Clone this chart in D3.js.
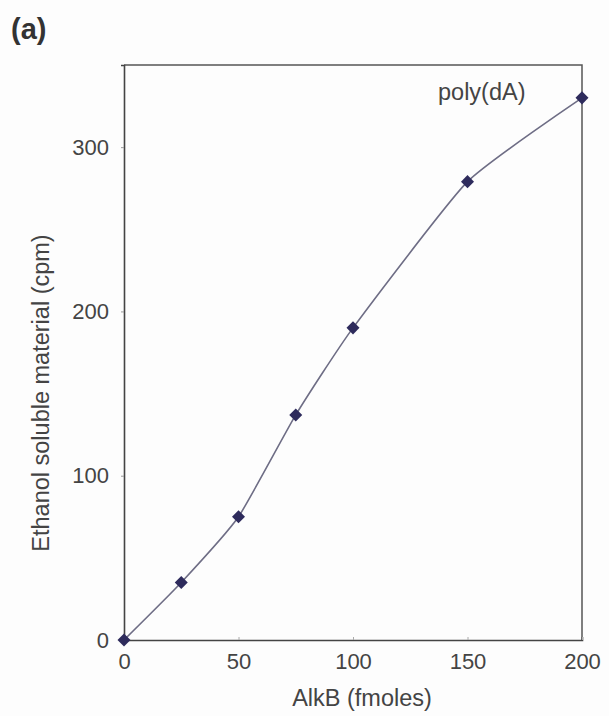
<!DOCTYPE html>
<html>
<head>
<meta charset="utf-8">
<script src="https://cdn.jsdelivr.net/npm/d3@7"></script>
<style>
  html, body { margin: 0; padding: 0; background: #fdfdfd; }
  svg { display: block; font-family: Arial, "Liberation Sans", sans-serif; }
</style>
</head>
<body>
<svg id="chart" width="609" height="716"></svg>
<script>
// AlkB titration on poly(dA): ethanol-soluble release
const alkbFmoles = [0, 25, 50, 75, 100, 150, 200];
const solubleCpm = [0, 35, 75, 137, 190, 279, 330];
const xTicks = [0, 50, 100, 150, 200];
const yTicks = [0, 100, 200, 300];
const seriesLabel = "poly(dA)";
const panelLabel = "(a)";
const xTitle = "AlkB (fmoles)";
const yTitle = "Ethanol soluble material (cpm)";

const svg = d3.select("#chart");
const plotLeft = 124, plotRight = 582, plotTop = 65, plotBottom = 640;

const x = d3.scaleLinear().domain([0, 200]).range([plotLeft, plotRight]);
const y = d3.scaleLinear().domain([0, 350]).range([plotBottom, plotTop]);

const textColor = "#444";

// panel letter
svg.append("text")
  .attr("x", 11).attr("y", 39)
  .attr("font-size", 29).attr("font-weight", "bold")
  .attr("fill", "#333")
  .text(panelLabel);

// top and right frame
svg.append("path")
  .attr("d", `M${plotLeft},${plotTop}H${plotRight}V${plotBottom}`)
  .attr("fill", "none").attr("stroke", "#555").attr("stroke-width", 1.5);

// y axis
const yAxis = svg.append("g")
  .attr("transform", `translate(${plotLeft},0)`)
  .call(d3.axisLeft(y).tickValues(yTicks).tickSize(3).tickPadding(12));
yAxis.select(".domain").attr("stroke", "#444").attr("stroke-width", 1.6);
yAxis.selectAll(".tick line").attr("stroke", "#999");
yAxis.selectAll(".tick text")
  .attr("font-size", 22).attr("fill", textColor)
  .attr("font-family", "Arial, 'Liberation Sans', sans-serif");

// x axis
const xAxis = svg.append("g")
  .attr("transform", `translate(0,${plotBottom})`)
  .call(d3.axisBottom(x).tickValues(xTicks).tickSize(-3).tickPadding(13));
xAxis.select(".domain").attr("stroke", "#444").attr("stroke-width", 1.6);
xAxis.selectAll(".tick line").attr("stroke", "#aaa");
xAxis.selectAll(".tick text")
  .attr("font-size", 22).attr("fill", textColor)
  .attr("font-family", "Arial, 'Liberation Sans', sans-serif");

// axis titles
svg.append("text")
  .attr("x", 362).attr("y", 706)
  .attr("text-anchor", "middle")
  .attr("font-size", 23.5).attr("fill", textColor)
  .text(xTitle);

svg.append("text")
  .attr("transform", `translate(49,393) rotate(-90)`)
  .attr("text-anchor", "middle")
  .attr("font-size", 23.5).attr("fill", textColor)
  .text(yTitle);

// lightly smoothed data line
const pts = alkbFmoles.map((v, i) => [v, solubleCpm[i]]);
const line = d3.line()
  .x(d => x(d[0])).y(d => y(d[1]))
  .curve(d3.curveCardinal.tension(0.5));
svg.append("path")
  .datum(pts)
  .attr("d", line)
  .attr("fill", "none")
  .attr("stroke", "#6e6d85")
  .attr("stroke-width", 1.6);

// diamond markers
svg.append("g").selectAll("path")
  .data(pts)
  .join("path")
  .attr("transform", d => `translate(${x(d[0])},${y(d[1])}) rotate(45)`)
  .attr("d", d3.symbol().type(d3.symbolSquare).size(85))
  .attr("fill", "#2e2b5c");

// series label
svg.append("text")
  .attr("x", 438).attr("y", 100)
  .attr("font-size", 23.5).attr("fill", textColor)
  .text(seriesLabel);
</script>
</body>
</html>
